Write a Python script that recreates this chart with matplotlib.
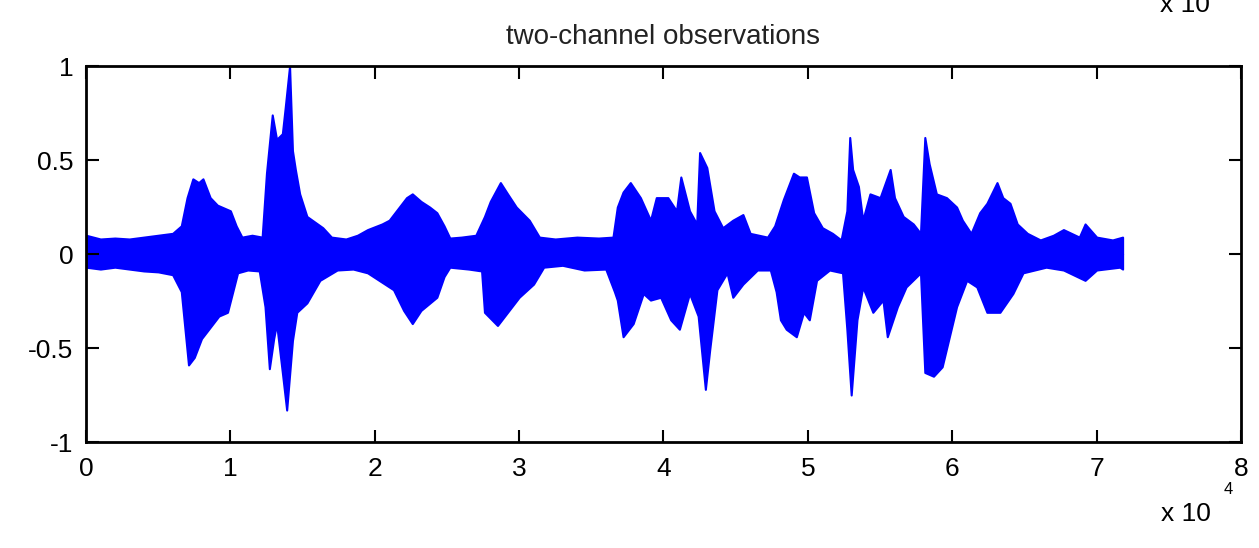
import matplotlib
matplotlib.use("Agg")
import matplotlib.pyplot as plt
import numpy as np

plt.rcParams['font.family'] = ['Liberation Sans', 'DejaVu Sans']

# envelope of the observed signal, x in units of 1e4 samples
upper_x = [0.00, 0.05, 0.10, 0.20, 0.30, 0.40, 0.50, 0.60, 0.66, 0.70, 0.74, 0.78, 0.81, 0.86, 0.91, 1.00,
           1.04, 1.08, 1.15, 1.22, 1.25, 1.29, 1.32, 1.36, 1.38, 1.41, 1.43, 1.45, 1.48, 1.53, 1.64, 1.70,
           1.80, 1.88, 1.95, 2.05, 2.10, 2.17, 2.22, 2.26, 2.32, 2.38, 2.43, 2.48, 2.52, 2.60, 2.70, 2.76,
           2.80, 2.87, 2.92, 2.98, 3.07, 3.14, 3.25, 3.40, 3.55, 3.65, 3.68, 3.72, 3.77, 3.84, 3.91, 3.95,
           4.03, 4.09, 4.12, 4.18, 4.23, 4.25, 4.30, 4.35, 4.41, 4.48, 4.55, 4.60, 4.72, 4.77, 4.83, 4.90,
           4.94, 4.99, 5.04, 5.10, 5.17, 5.23, 5.27, 5.29, 5.31, 5.35, 5.38, 5.43, 5.50, 5.57, 5.60, 5.66,
           5.73, 5.78, 5.81, 5.84, 5.89, 5.96, 6.03, 6.07, 6.13, 6.19, 6.24, 6.31, 6.35, 6.40, 6.45, 6.52,
           6.61, 6.70, 6.77, 6.88, 6.92, 7.00, 7.11, 7.18]
upper_v = [0.10, 0.09, 0.08, 0.085, 0.08, 0.09, 0.10, 0.11, 0.15, 0.30, 0.40, 0.38, 0.40, 0.30, 0.26, 0.23,
           0.15, 0.09, 0.10, 0.09, 0.43, 0.74, 0.61, 0.64, 0.78, 1.00, 0.55, 0.45, 0.32, 0.20, 0.14, 0.09,
           0.08, 0.10, 0.13, 0.16, 0.18, 0.25, 0.30, 0.32, 0.28, 0.25, 0.22, 0.15, 0.085, 0.09, 0.10, 0.20,
           0.28, 0.38, 0.32, 0.25, 0.18, 0.09, 0.08, 0.09, 0.085, 0.09, 0.25, 0.33, 0.38, 0.30, 0.18, 0.30,
           0.30, 0.23, 0.41, 0.23, 0.16, 0.54, 0.46, 0.23, 0.14, 0.18, 0.21, 0.11, 0.09, 0.15, 0.29, 0.43,
           0.41, 0.41, 0.22, 0.14, 0.11, 0.075, 0.23, 0.62, 0.45, 0.36, 0.18, 0.32, 0.30, 0.45, 0.30, 0.20,
           0.16, 0.11, 0.62, 0.48, 0.32, 0.30, 0.25, 0.18, 0.11, 0.22, 0.27, 0.38, 0.30, 0.27, 0.16, 0.11,
           0.075, 0.10, 0.13, 0.09, 0.16, 0.09, 0.075, 0.09]

lower_x = [0.00, 0.10, 0.20, 0.30, 0.40, 0.50, 0.60, 0.66, 0.71, 0.75, 0.80, 0.86, 0.92, 0.98, 1.05, 1.12,
           1.20, 1.24, 1.27, 1.30, 1.32, 1.36, 1.39, 1.43, 1.46, 1.53, 1.62, 1.74, 1.85, 1.95, 2.05, 2.13,
           2.20, 2.26, 2.32, 2.43, 2.48, 2.52, 2.65, 2.74, 2.76, 2.85, 2.90, 3.00, 3.10, 3.17, 3.30, 3.45,
           3.60, 3.66, 3.68, 3.72, 3.79, 3.86, 3.91, 3.98, 4.05, 4.11, 4.18, 4.24, 4.29, 4.32, 4.37, 4.44,
           4.48, 4.55, 4.65, 4.74, 4.78, 4.81, 4.85, 4.92, 4.97, 5.01, 5.06, 5.15, 5.24, 5.27, 5.30, 5.34,
           5.38, 5.45, 5.52, 5.55, 5.62, 5.68, 5.78, 5.81, 5.87, 5.93, 5.98, 6.03, 6.10, 6.17, 6.24, 6.33,
           6.42, 6.49, 6.65, 6.77, 6.92, 7.00, 7.16, 7.18]
lower_v = [-0.07, -0.08, -0.07, -0.08, -0.09, -0.095, -0.11, -0.20, -0.59, -0.55, -0.45, -0.39, -0.33, -0.31, -0.10, -0.085,
           -0.09, -0.28, -0.61, -0.45, -0.37, -0.63, -0.83, -0.46, -0.31, -0.26, -0.14, -0.085, -0.08, -0.10, -0.15, -0.19,
           -0.30, -0.37, -0.30, -0.23, -0.12, -0.07, -0.08, -0.09, -0.31, -0.38, -0.33, -0.23, -0.16, -0.07, -0.06, -0.085,
           -0.08, -0.20, -0.245, -0.44, -0.37, -0.21, -0.245, -0.23, -0.35, -0.40, -0.21, -0.33, -0.72, -0.51, -0.19, -0.10,
           -0.23, -0.16, -0.085, -0.085, -0.20, -0.35, -0.40, -0.44, -0.31, -0.35, -0.14, -0.085, -0.10, -0.40, -0.75, -0.35,
           -0.175, -0.31, -0.245, -0.44, -0.28, -0.175, -0.10, -0.63, -0.65, -0.60, -0.44, -0.28, -0.14, -0.175, -0.31, -0.31,
           -0.21, -0.10, -0.07, -0.085, -0.14, -0.085, -0.07, -0.08]

fig = plt.figure(figsize=(12.59, 5.48), dpi=100)
ax = fig.add_axes([0.0683, 0.1934, 0.9174, 0.6861])

blue = (0, 0, 1)
ax.fill_between(upper_x, 0, upper_v, color=blue, linewidth=1.5)
ax.fill_between(lower_x, lower_v, 0, color=blue, linewidth=1.5)

ax.set_xlim(0, 8)
ax.set_ylim(-1, 1)
ax.set_xticks(range(0, 9))
ax.set_yticks([-1, -0.5, 0, 0.5, 1])
ax.set_yticklabels(['-1', '-0.5', '0', '0.5', '1'])
ax.tick_params(direction='in', length=9, width=1.5, top=True, right=True,
               labelsize=19, pad=9, colors='black')
ax.tick_params(axis='x', pad=11)
for s in ax.spines.values():
    s.set_linewidth(2)

ax.set_title('two-channel observations', fontsize=20, pad=16, color='#222222')

fig.text(0.922, 0.050, 'x 10', fontsize=19, ha='left', va='baseline')
fig.text(0.972, 0.098, '4', fontsize=12, ha='left', va='baseline')
fig.text(0.921, 0.990, 'x 10', fontsize=19, ha='left', va='center')

fig.savefig('out.png', dpi=100)
